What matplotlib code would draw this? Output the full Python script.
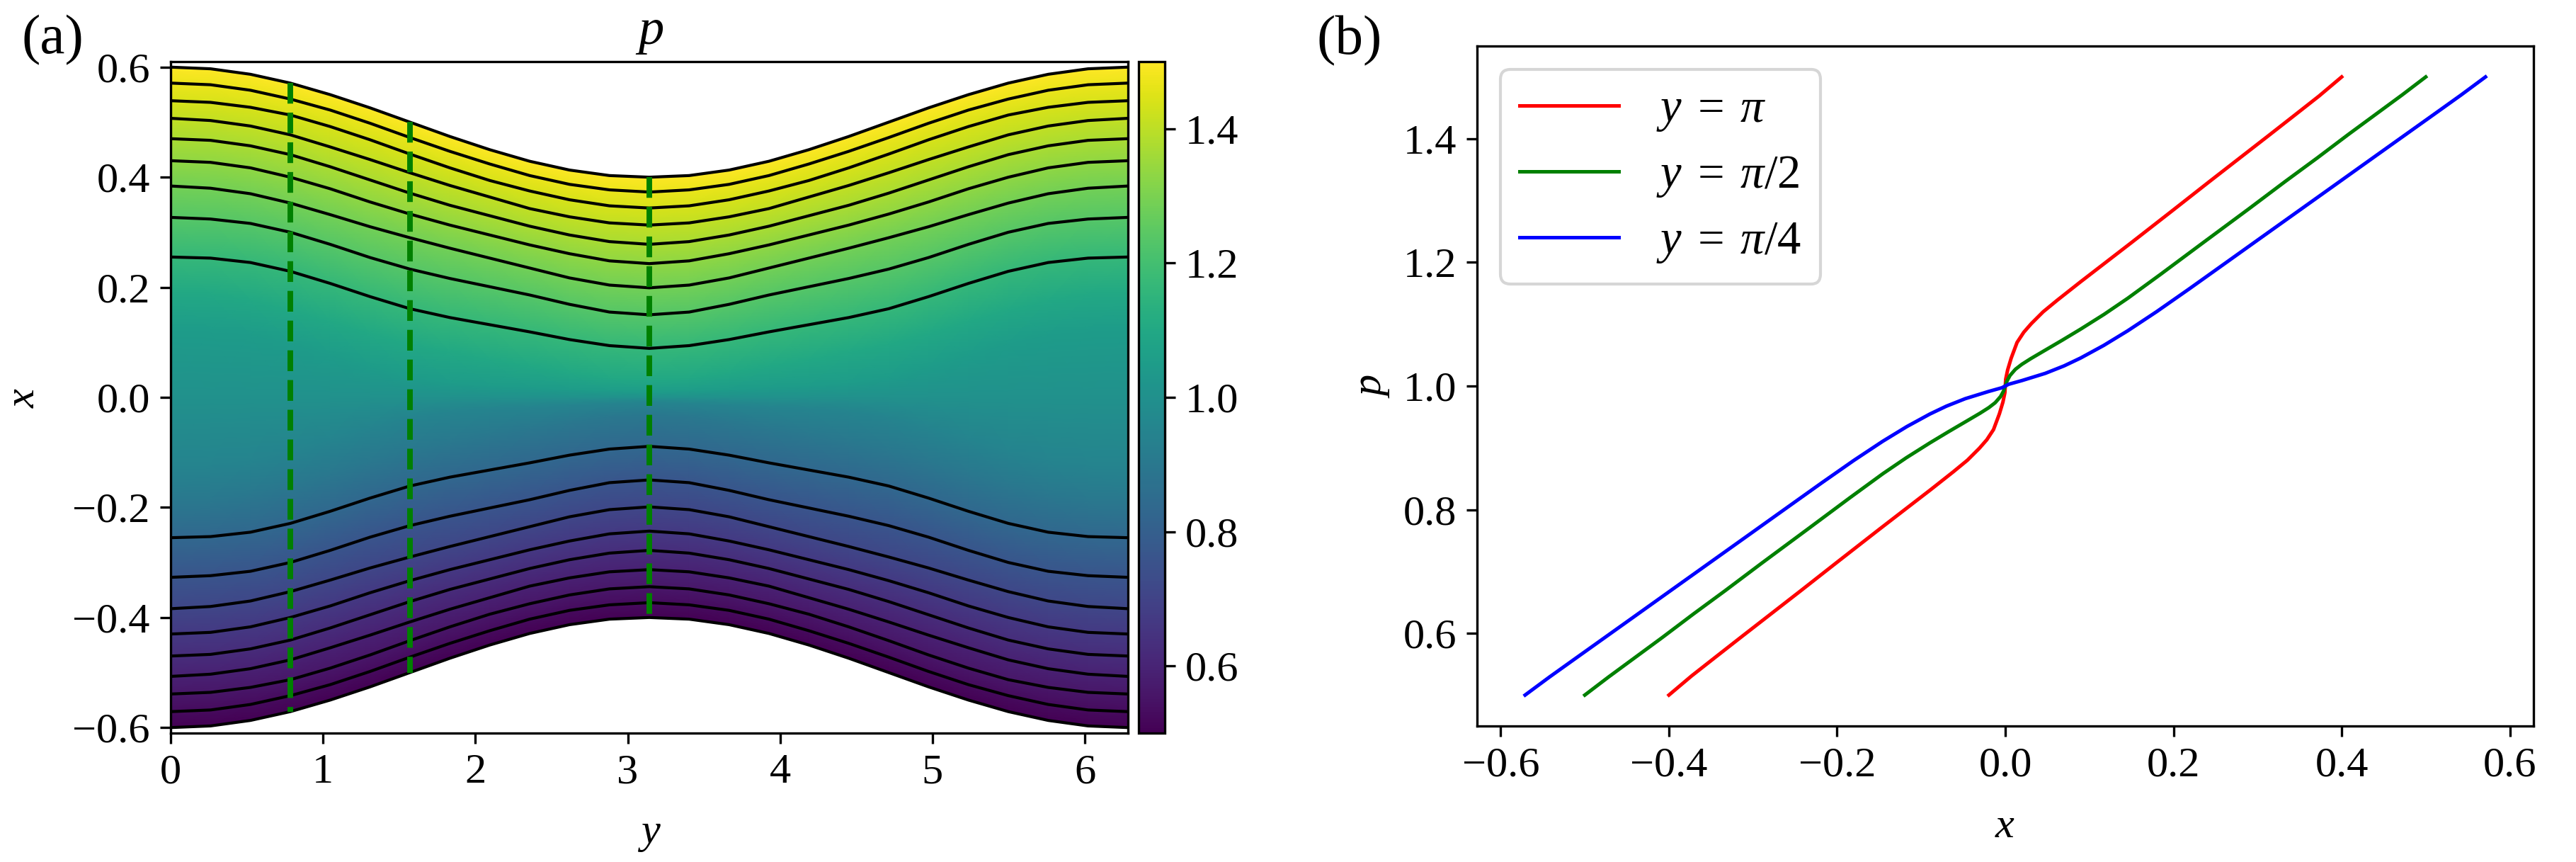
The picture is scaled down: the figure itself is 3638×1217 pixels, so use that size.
import numpy as np
import matplotlib.pyplot as plt

plt.rcParams['font.family'] = ['Liberation Serif', 'DejaVu Serif']
plt.rcParams['mathtext.fontset'] = 'custom'
plt.rcParams['mathtext.rm'] = 'Liberation Serif'
plt.rcParams['mathtext.it'] = 'Liberation Serif:italic'
plt.rcParams['font.size'] = 14.5

# --- panel (a): positions (upper half) of p-levels, read at y = 0, pi/12, ..., pi
y_half = np.pi * np.array([0, 1, 2, 3, 4, 5, 6, 7, 8, 9, 10, 11, 12]) / 12
p_levels = [1.05, 1.10, 1.167, 1.236, 1.289, 1.333, 1.373, 1.408, 1.441, 1.471, 1.5]
x_levels = [
    [0.125, 0.190, 0.255, 0.327, 0.384, 0.430, 0.470, 0.507, 0.539, 0.571, 0.600],
    [0.122, 0.187, 0.253, 0.324, 0.380, 0.427, 0.467, 0.503, 0.536, 0.568, 0.597],
    [0.114, 0.176, 0.245, 0.316, 0.370, 0.417, 0.457, 0.493, 0.527, 0.558, 0.587],
    [0.098, 0.159, 0.229, 0.300, 0.353, 0.400, 0.441, 0.477, 0.513, 0.542, 0.571],
    [0.077, 0.138, 0.207, 0.278, 0.332, 0.379, 0.419, 0.455, 0.492, 0.522, 0.550],
    [0.055, 0.116, 0.183, 0.254, 0.310, 0.355, 0.395, 0.432, 0.468, 0.498, 0.526],
    [0.037, 0.097, 0.161, 0.233, 0.290, 0.333, 0.371, 0.408, 0.442, 0.472, 0.500],
    [0.026, 0.082, 0.145, 0.216, 0.271, 0.313, 0.349, 0.385, 0.417, 0.447, 0.474],
    [0.021, 0.069, 0.132, 0.201, 0.253, 0.295, 0.330, 0.364, 0.394, 0.424, 0.450],
    [0.018, 0.057, 0.119, 0.186, 0.235, 0.277, 0.311, 0.343, 0.375, 0.403, 0.429],
    [0.014, 0.045, 0.105, 0.169, 0.217, 0.261, 0.295, 0.328, 0.359, 0.387, 0.413],
    [0.011, 0.035, 0.094, 0.155, 0.204, 0.248, 0.283, 0.317, 0.348, 0.377, 0.403],
    [0.009, 0.031, 0.089, 0.150, 0.199, 0.243, 0.278, 0.313, 0.344, 0.373, 0.400],
]
contour_cols = [2, 3, 4, 5, 6, 7, 8, 9, 10]   # levels drawn as black lines
cut_rows = [3, 6, 12]                          # y = pi/4, pi/2, pi

# --- panel (b): upper half of each cut, the lower half is the mirror image
red_x = [0.0, 0.0005, 0.0028, 0.007, 0.014, 0.022, 0.031, 0.045, 0.062, 0.089,
         0.1176, 0.150, 0.199, 0.243, 0.278, 0.313, 0.344, 0.373, 0.400]
red_p = [1.0, 1.011, 1.026, 1.045, 1.0705, 1.087, 1.101, 1.120, 1.139, 1.168,
         1.198, 1.232, 1.284, 1.331, 1.368, 1.405, 1.438, 1.469, 1.500]
green_x = [0.0, 0.002, 0.0056, 0.012, 0.0196, 0.030, 0.045, 0.0676, 0.0896, 0.1176,
           0.1457, 0.185, 0.2334, 0.290, 0.333, 0.371, 0.408, 0.442, 0.472, 0.500]
green_p = [1.0, 1.008, 1.017, 1.027, 1.035, 1.044, 1.056, 1.074, 1.092, 1.116,
           1.142, 1.181, 1.230, 1.287, 1.331, 1.369, 1.407, 1.441, 1.471, 1.500]
blue_x = [0.0, 0.004, 0.02, 0.0476, 0.07, 0.0896, 0.117, 0.1457, 0.18, 0.2185,
          0.265, 0.300, 0.353, 0.400, 0.441, 0.477, 0.513, 0.542, 0.571]
blue_p = [1.0, 1.0028, 1.0089, 1.0205, 1.0326, 1.0453, 1.0656, 1.0894, 1.1203, 1.1569,
          1.202, 1.236, 1.2874, 1.333, 1.3728, 1.4077, 1.4426, 1.4708, 1.500]
cut_labels = [r'$y\;=\;\pi$', r'$y\;=\;\pi/2$', r'$y\;=\;\pi/4$']


def mirror_cut(xs, ps):
    xs = np.array(xs)
    ps = np.array(ps)
    return (np.concatenate([-xs[::-1], xs[1:]]),
            np.concatenate([2 - ps[::-1], ps[1:]]))


# full domain: mirror in y about pi and in x about 0
xh = np.array(x_levels)
y_full = np.concatenate([y_half, 2 * np.pi - y_half[-2::-1]])
xh_full = np.vstack([xh, xh[-2::-1]])
X = np.hstack([-xh_full[:, ::-1], np.zeros((len(y_full), 1)), xh_full])
lev = np.array(p_levels)
pvals = np.concatenate([2 - lev[::-1], [1.0], lev])
P = np.tile(pvals, (len(y_full), 1))
Y = np.tile(y_full[:, None], (1, X.shape[1]))

fig = plt.figure(figsize=(3638 / 300, 1217 / 300), dpi=300)
ax1 = fig.add_axes([0.06625, 0.14955, 0.37163, 0.77896])
cax = fig.add_axes([0.44200, 0.14955, 0.01017, 0.77896])
ax2 = fig.add_axes([0.5734, 0.1578, 0.4101, 0.7888])

mesh = ax1.pcolormesh(Y, X, P, shading='gouraud', cmap='viridis', vmin=0.5, vmax=1.5)
for j in contour_cols:
    ax1.plot(y_full, xh_full[:, j], color='k', lw=1.0)
    ax1.plot(y_full, -xh_full[:, j], color='k', lw=1.0)
for i in cut_rows:
    h = x_levels[i][-1]
    ax1.plot([y_half[i], y_half[i]], [h, -h], color='g', ls='--', lw=1.9)
ax1.set_xlim(0, 2 * np.pi)
ax1.set_ylim(-0.61, 0.61)
ax1.set_xticks([0, 1, 2, 3, 4, 5, 6])
ax1.set_yticks([-0.6, -0.4, -0.2, 0.0, 0.2, 0.4, 0.6])
ax1.set_xlabel('$y$', labelpad=8)
ax1.set_ylabel('$x$', labelpad=10)
ax1.set_title('$p$')
fig.colorbar(mesh, cax=cax, ticks=[0.6, 0.8, 1.0, 1.2, 1.4])

for (xs, ps), c, lab in zip([mirror_cut(red_x, red_p), mirror_cut(green_x, green_p),
                             mirror_cut(blue_x, blue_p)], ['r', 'g', 'b'], cut_labels):
    ax2.plot(xs, ps, color=c, lw=1.2, label=lab)
ax2.set_xticks([-0.6, -0.4, -0.2, 0.0, 0.2, 0.4, 0.6])
ax2.set_yticks([0.6, 0.8, 1.0, 1.2, 1.4])
ax2.set_xlabel('$x$', labelpad=8)
ax2.set_ylabel('$p$')
ax2.legend(loc='upper left', fontsize=16, labelspacing=0.45, handlelength=2.1)

fig.text(74 / 3638, 1 - 57 / 1217, '(a)', ha='center', va='center', fontsize=19)
fig.text(1906 / 3638, 1 - 58 / 1217, '(b)', ha='center', va='center', fontsize=19)

fig.savefig('out.png', dpi=300)
